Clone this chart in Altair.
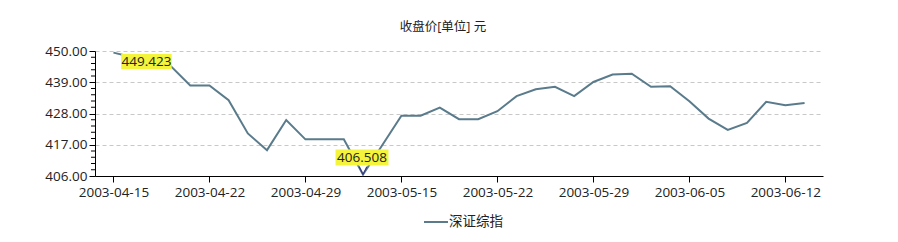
import altair as alt
import pandas as pd

# ---- data ----
dates = [
    "2003-04-15", "2003-04-16", "2003-04-17", "2003-04-18", "2003-04-21",
    "2003-04-22", "2003-04-23", "2003-04-24", "2003-04-25", "2003-04-28",
    "2003-04-29", "2003-04-30", "2003-05-12", "2003-05-13", "2003-05-14",
    "2003-05-15", "2003-05-16", "2003-05-19", "2003-05-20", "2003-05-21",
    "2003-05-22", "2003-05-23", "2003-05-26", "2003-05-27", "2003-05-28",
    "2003-05-29", "2003-05-30", "2003-06-02", "2003-06-03", "2003-06-04",
    "2003-06-05", "2003-06-06", "2003-06-09", "2003-06-10", "2003-06-11",
    "2003-06-12", "2003-06-13",
]
values = [
    449.423, 447.8, 446.2, 444.6, 437.9,
    437.9, 432.7, 421.0, 415.1, 425.7,
    418.9, 418.9, 418.9, 406.508, 416.8,
    427.2, 427.2, 430.1, 426.0, 426.0,
    428.8, 434.1, 436.5, 437.4, 434.1,
    439.1, 441.7, 442.0, 437.4, 437.6,
    432.3, 426.2, 422.2, 424.7, 432.1,
    430.9, 431.7,
]
series_name = "深证综指"
title_text = "收盘价[单位] 元"
y_ticks = [406, 417, 428, 439, 450]
y_minor_ticks = [408.2, 410.4, 412.6, 414.8, 419.2, 421.4, 423.6, 425.8,
                 430.2, 432.4, 434.6, 436.8, 441.2, 443.4, 445.6, 447.8]
x_labels = ["2003-04-15", "2003-04-22", "2003-04-29", "2003-05-15",
            "2003-05-22", "2003-05-29", "2003-06-05", "2003-06-12"]

df = pd.DataFrame({"date": dates, "value": values, "series": series_name})
df_max = df.loc[[df["value"].idxmax()]]
df_min = df.loc[[df["value"].idxmin()]]
df_minor = pd.DataFrame({"value": y_minor_ticks})

# ---- style ----
FONT = "Open Sans, Noto Sans CJK SC, sans-serif"
LINE_COLOR = "#5a7b8b"
BOX_COLOR = "#f4f43c"
TEXT_COLOR = "#222222"
FS = 13.5

x_enc = alt.X(
    "date:O", sort=None,
    scale=alt.Scale(type="point", padding=0.96),
    axis=alt.Axis(values=x_labels, labelAngle=0, title=None, grid=False,
                  domainColor="#000000", tickColor="#000000", tickSize=6,
                  labelPadding=3, labelFontSize=FS, labelColor=TEXT_COLOR,
                  labelOverlap=False, labelFont=FONT),
)
y_scale = alt.Scale(domain=[406, 450], nice=False, zero=False)
y_enc = alt.Y(
    "value:Q", scale=y_scale,
    axis=alt.Axis(values=y_ticks, tickCount=10, format=".2f", title=None,
                  grid=True, gridDash=[4, 3], gridColor="#c8c8c8",
                  domainColor="#000000", tickColor="#000000", tickSize=6,
                  labelPadding=2, labelFontSize=FS, labelColor=TEXT_COLOR,
                  labelFlush=False, labelOverlap=False, labelFont=FONT),
)

line = alt.Chart(df).mark_line(strokeWidth=2).encode(
    x=x_enc, y=y_enc,
    color=alt.Color(
        "series:N",
        scale=alt.Scale(domain=[series_name], range=[LINE_COLOR]),
        legend=alt.Legend(title=None, orient="none", legendX=328, legendY=158,
                          symbolType="stroke", symbolSize=576,
                          symbolStrokeWidth=2, labelFontSize=FS,
                          labelColor=TEXT_COLOR, labelFont=FONT,
                          labelOffset=0, direction="horizontal"),
    ),
)

minor = alt.Chart(df_minor).mark_tick(
    orient="horizontal", size=4, thickness=1, color="#000000", opacity=1,
).encode(
    y=alt.Y("value:Q", scale=y_scale),
    x=alt.value(-2),
)

box_path = "M-1,-0.3L1,-0.3L1,0.3L-1,0.3Z"

max_box = alt.Chart(df_max).mark_point(
    shape=box_path, size=2550, filled=True, color=BOX_COLOR, opacity=1,
    strokeWidth=0, xOffset=33, yOffset=9,
).encode(x="date:O", y="value:Q")
max_text = alt.Chart(df_max).mark_text(
    dx=33, dy=9, fontSize=FS, color=TEXT_COLOR, font=FONT,
    align="center", baseline="middle",
).encode(x="date:O", y="value:Q", text=alt.Text("value:Q", format=".3f"))

min_box = alt.Chart(df_min).mark_point(
    shape=box_path, size=2809, filled=True, color=BOX_COLOR, opacity=1,
    strokeWidth=0, xOffset=-1, yOffset=-17,
).encode(x="date:O", y="value:Q")
min_text = alt.Chart(df_min).mark_text(
    dx=-1, dy=-17, fontSize=FS, color=TEXT_COLOR, font=FONT,
    align="center", baseline="middle",
).encode(x="date:O", y="value:Q", text=alt.Text("value:Q", format=".3f"))
min_arrow = alt.Chart(df_min).mark_point(
    shape="M-1,-1L0,1L1,-1", size=60, filled=False, color="#3b3b80",
    opacity=1, strokeWidth=1.2, yOffset=-4,
).encode(x="date:O", y="value:Q")

chart = alt.layer(
    line, minor, max_box, max_text, min_box, min_text, min_arrow
).properties(
    width=728, height=125,
    title=alt.Title(title_text, fontSize=12.5, fontWeight="normal",
                    color=TEXT_COLOR, font=FONT, offset=11, dx=-16,
                    anchor="middle"),
    autosize=alt.AutoSizeParams(type="none"),
    padding={"left": 95, "top": 51, "right": 75, "bottom": 66},
    background="white",
).configure_view(stroke=None)

chart.save("out.html", embed_options={"renderer": "svg", "actions": False})
